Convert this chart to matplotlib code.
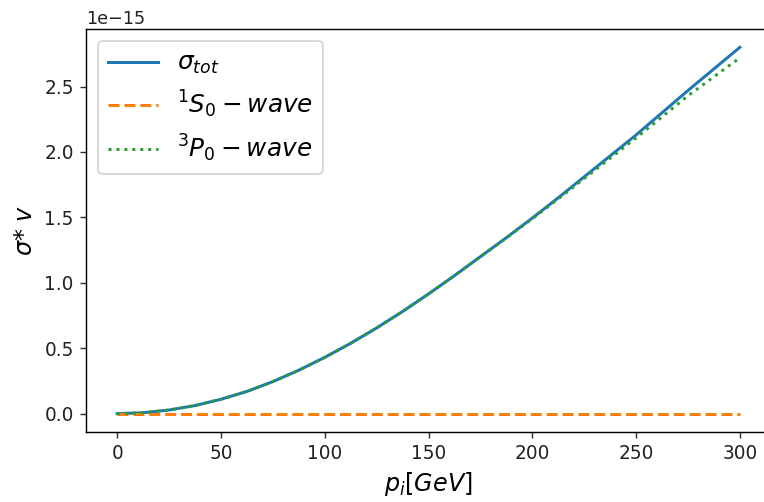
import matplotlib
matplotlib.use("Agg")
import matplotlib.pyplot as plt

# momentum grid (GeV)
p = [0, 12.5, 25, 37.5, 50, 62.5, 75, 87.5, 100, 112.5, 125, 137.5, 150,
     162.5, 175, 187.5, 200, 212.5, 225, 237.5, 250, 262.5, 275, 287.5, 300]

# sigma*v in units of 1e-15
sigma_tot = [0.0, 0.007, 0.028, 0.062, 0.11, 0.17, 0.245, 0.332, 0.43, 0.538,
             0.655, 0.781, 0.915, 1.055, 1.2, 1.345, 1.495, 1.65, 1.81, 1.97,
             2.13, 2.30, 2.47, 2.635, 2.80]
s_wave = [0.0] * 25
p_wave = [0.0, 0.007, 0.028, 0.062, 0.11, 0.17, 0.245, 0.332, 0.43, 0.538,
          0.655, 0.781, 0.915, 1.055, 1.2, 1.343, 1.49, 1.642, 1.797, 1.952,
          2.108, 2.268, 2.43, 2.575, 2.72]

scale = 1e-15

W, H = 764, 502
dpi = 127
fig = plt.figure(figsize=(W / dpi, H / dpi), dpi=dpi)
ax = fig.add_axes([86 / W, (H - 432) / H, (771 - 86) / W, (432 - 29) / H])

ax.plot(p, [v * scale for v in sigma_tot], label=r'$\sigma_{tot}$', lw=1.7)
ax.plot(p, [v * scale for v in s_wave], '--', label=r'$^1S_0-wave$', lw=1.7)
ax.plot(p, [v * scale for v in p_wave], ':', label=r'$^3P_0-wave$', lw=1.7)

ax.tick_params(labelsize=10.5, colors='#333333', labelcolor='#222222')
ax.set_xlabel(r'$p_i[GeV]$', fontsize=13.5)
ax.set_ylabel(r'$\sigma$* $v$', fontsize=13.5)
ax.legend(fontsize=14)

fig.savefig("out.png", dpi=dpi)
